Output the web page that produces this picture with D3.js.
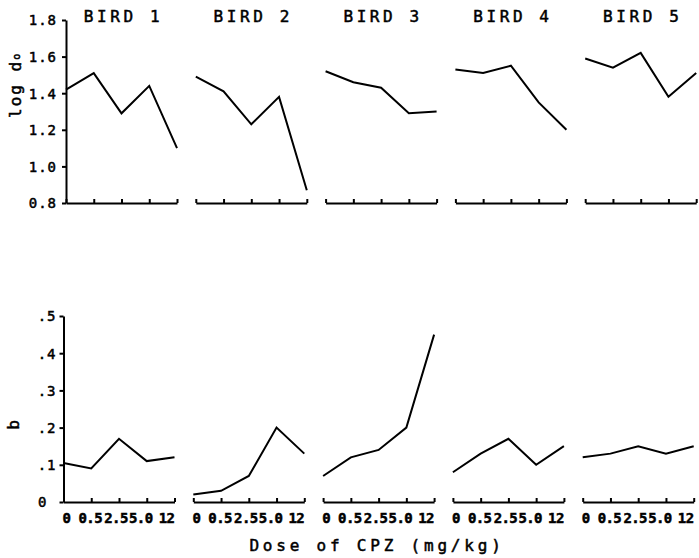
<!DOCTYPE html>
<html>
<head>
<meta charset="utf-8">
<script src="https://cdn.jsdelivr.net/npm/d3@7"></script>
<style>
  body { margin: 0; background: #fff; }
  text { font-family: "DejaVu Sans Mono", monospace; fill: #000; stroke: #000; stroke-width: 0.5px; }
  .axis path, .axis line { stroke: #000; stroke-width: 2; }
</style>
</head>
<body>
<div id="vis"></div>
<script>
// doses on the x axis (same for every bird)
var doses = ["0", "0.5", "2.5", "5.0", "12"];
var birds = ["BIRD 1", "BIRD 2", "BIRD 3", "BIRD 4", "BIRD 5"];

// log d0, one row per bird
var logD0 = [
  [1.42, 1.51, 1.29, 1.44, 1.10],
  [1.49, 1.41, 1.23, 1.38, 0.87],
  [1.52, 1.46, 1.43, 1.29, 1.30],
  [1.53, 1.51, 1.55, 1.35, 1.20],
  [1.59, 1.54, 1.62, 1.38, 1.51]
];

// b, one row per bird
var bVals = [
  [0.105, 0.09, 0.17, 0.11, 0.12],
  [0.02, 0.03, 0.07, 0.20, 0.13],
  [0.07, 0.12, 0.14, 0.20, 0.45],
  [0.08, 0.13, 0.17, 0.10, 0.15],
  [0.12, 0.13, 0.15, 0.13, 0.15]
];

var topTicks = [0.8, 1.0, 1.2, 1.4, 1.6, 1.8];
var bTicks = [0, 0.1, 0.2, 0.3, 0.4, 0.5];

var W = 699, H = 558, pw = 111;
// the dose labels are squeezed inside the panel width
var labelShift = [3, -1, -3, -6, -8];

var svg = d3.select("#vis").append("svg")
  .attr("width", W).attr("height", H);

var x = d3.scalePoint().domain(doses).range([0, pw]);
var yTop = d3.scaleLinear().domain([0.8, 1.8]).range([203, 20]);
var yBot = d3.scaleLinear().domain([0, 0.5]).range([502, 316]);

var line = function(y) {
  return d3.line().x(function(d, i) { return x(doses[i]); }).y(function(d) { return y(d); });
};

function panelLeft(i, row) {
  return (row == 0 ? 66 : 63.5) + i * 129.8;
}

birds.forEach(function(name, i) {
  // top row
  var g = svg.append("g").attr("transform", "translate(" + panelLeft(i, 0) + ",0)");
  g.append("g").attr("class", "axis")
    .attr("transform", "translate(0," + yTop(0.8) + ")")
    .call(d3.axisTop(x).tickSize(4).tickSizeOuter(0).tickFormat(""));
  g.append("path").datum(logD0[i])
    .attr("d", line(yTop))
    .attr("fill", "none").attr("stroke", "#000").attr("stroke-width", 2);
  g.append("text")
    .attr("x", pw / 2 + 2).attr("y", 22)
    .attr("text-anchor", "middle")
    .style("font-size", "16px").style("letter-spacing", "3.6px")
    .attr("xml:space", "preserve")
    .text(name);

  // bottom row
  var g2 = svg.append("g").attr("transform", "translate(" + panelLeft(i, 1) + ",0)");
  g2.append("g").attr("class", "axis")
    .attr("transform", "translate(0," + yBot(0) + ")")
    .call(d3.axisTop(x).tickSize(4).tickSizeOuter(0).tickFormat(""));
  g2.append("path").datum(bVals[i])
    .attr("d", line(yBot))
    .attr("fill", "none").attr("stroke", "#000").attr("stroke-width", 2);
  g2.selectAll(".dl").data(doses).enter().append("text")
    .attr("x", function(d, j) { return x(d) + labelShift[j]; })
    .attr("y", 523)
    .attr("text-anchor", "middle")
    .style("font-size", "14px").style("font-weight", "bold")
    .style("letter-spacing", "-0.6px")
    .text(function(d) { return d; });

  if (i == 0) {
    var ya = g.append("g").attr("class", "axis")
      .call(d3.axisLeft(yTop).tickValues(topTicks).tickSize(4).tickSizeOuter(0)
        .tickFormat(d3.format(".1f")));
    ya.selectAll("text").attr("x", -9).attr("dy", "0.35em")
      .style("font-size", "14px").style("letter-spacing", "1px")
      .attr("font-family", null);
    var yb = g2.append("g").attr("class", "axis")
      .call(d3.axisLeft(yBot).tickValues(bTicks).tickSize(4).tickSizeOuter(0)
        .tickFormat(function(d) { return d == 0 ? "0" : d3.format(".1f")(d).replace(/^0/, ""); }));
    yb.selectAll("text")
      .attr("x", function(d) { return d == 0 ? -16 : -7; })
      .attr("dy", "0.35em")
      .style("font-size", "14px").style("letter-spacing", "1px")
      .attr("font-family", null);
  }
});

// y titles
var lt = svg.append("text")
  .attr("transform", "translate(21,118) rotate(-90)")
  .style("font-size", "16px").style("letter-spacing", "2px")
  .attr("xml:space", "preserve");
lt.append("tspan").text("log d");
lt.append("tspan").attr("dy", -1).style("font-size", "10px").text("o");

svg.append("text")
  .attr("transform", "translate(19,425) rotate(-90)")
  .attr("text-anchor", "middle")
  .style("font-size", "16px")
  .text("b");

svg.append("text")
  .attr("x", 377).attr("y", 551)
  .attr("text-anchor", "middle")
  .style("font-size", "16px").style("letter-spacing", "3.8px")
  .attr("xml:space", "preserve")
  .text("Dose of CPZ (mg/kg)");
</script>
</body>
</html>
